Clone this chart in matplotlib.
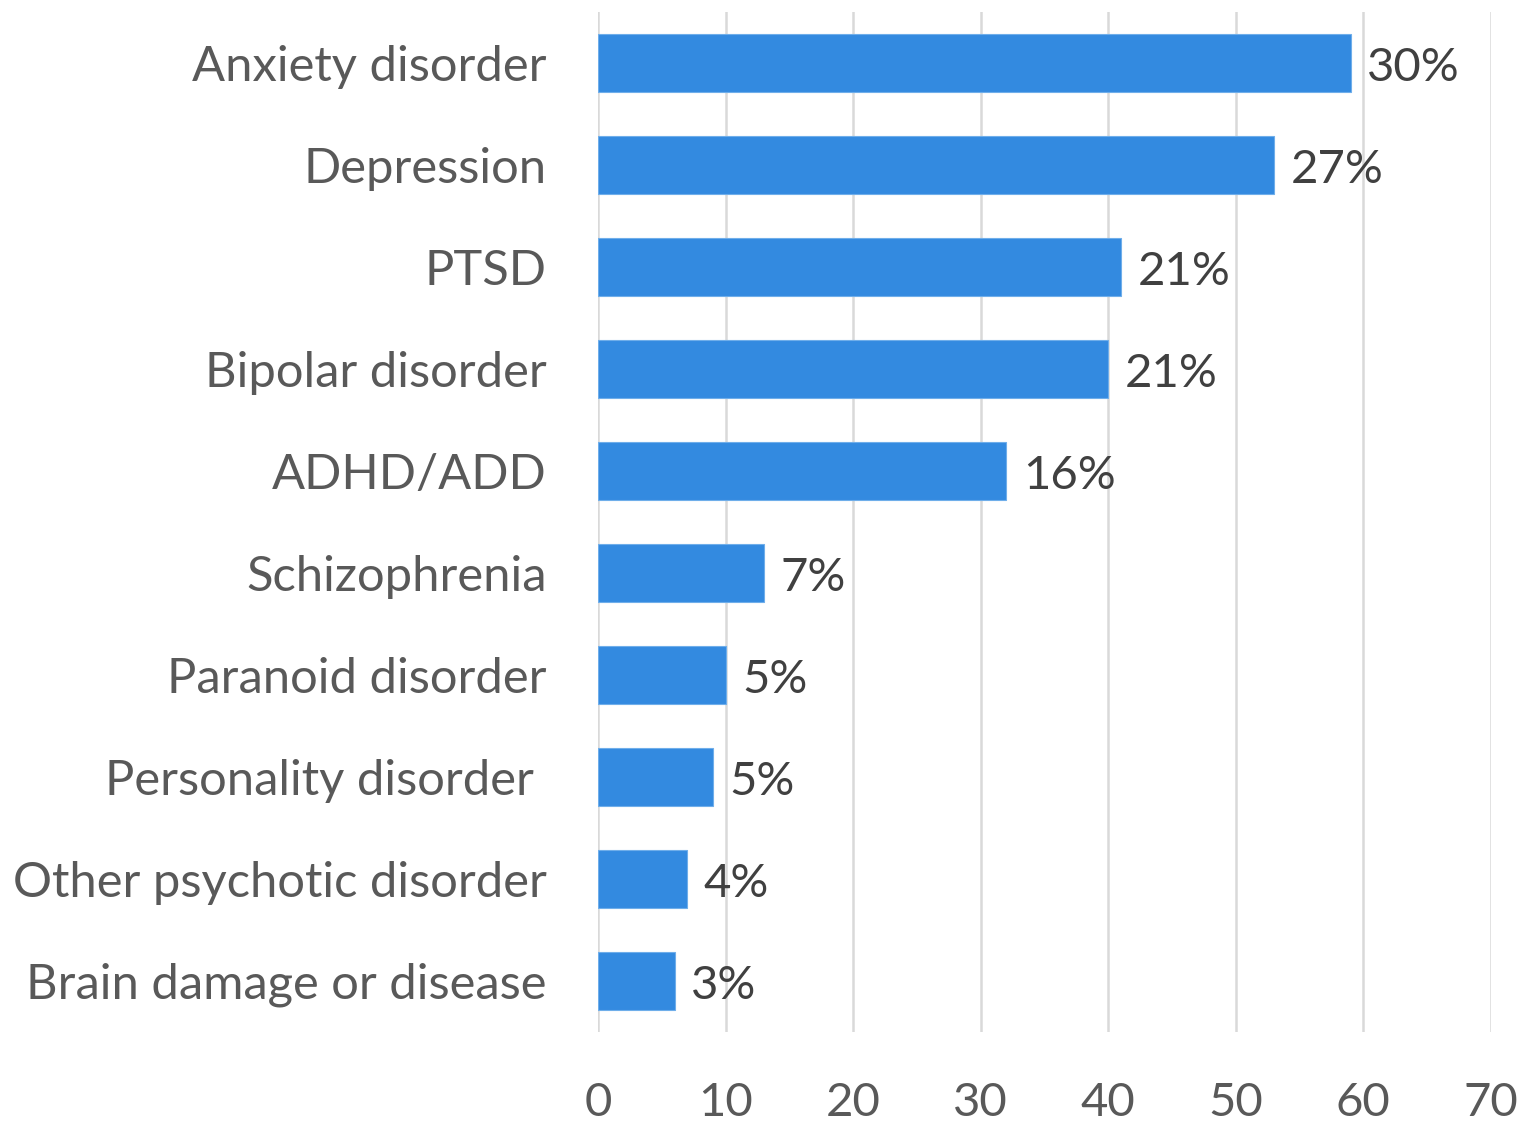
import matplotlib
matplotlib.use("Agg")
import matplotlib.pyplot as plt

categories = [
    "Anxiety disorder",
    "Depression",
    "PTSD",
    "Bipolar disorder",
    "ADHD/ADD",
    "Schizophrenia",
    "Paranoid disorder",
    "Personality disorder ",
    "Other psychotic disorder",
    "Brain damage or disease",
]
counts = [59, 53, 41, 40, 32, 13, 10, 9, 7, 6]
respondents = 195
x_ticks = [0, 10, 20, 30, 40, 50, 60, 70]

plt.rcParams["font.family"] = ["Lato", "DejaVu Sans"]

fig = plt.figure(figsize=(15.24, 11.21), dpi=100)
ax = fig.add_axes([0.3924, 0.0794, 0.5859, 0.9099])

y = list(range(len(categories)))
bars = ax.barh(y, counts, height=0.56, color="#338AE0", edgecolor="#6FAEEA",
               linewidth=0.8, zorder=3)

for yi, c in zip(y, counts):
    pct = round(100 * c / respondents)
    ax.text(c + 1.3, yi + 0.05, f"{pct}%", va="center", ha="left",
            fontsize=34, color="#404040")

ax.set_ylim(len(categories) - 0.5, -0.5)
ax.set_xlim(0, 70)
ax.set_xticks(x_ticks)
ax.set_yticks(y)
ax.set_yticklabels(categories)
ax.tick_params(axis="y", length=0, pad=37, labelsize=35.2, labelcolor="#595959")
ax.tick_params(axis="x", length=0, pad=36, labelsize=34, labelcolor="#595959")
ax.grid(axis="x", color="#D9D9D9", linewidth=1.8, zorder=0)
for s in ax.spines.values():
    s.set_visible(False)

fig.savefig("out.png", dpi=100)
